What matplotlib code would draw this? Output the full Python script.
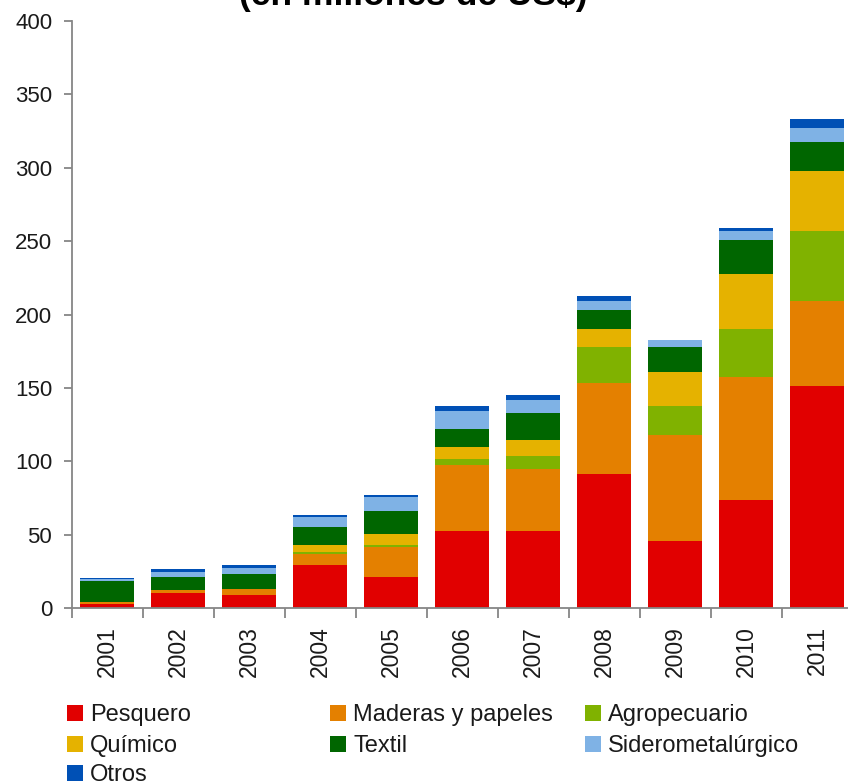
import matplotlib
matplotlib.use("Agg")
import matplotlib.pyplot as plt
from matplotlib.patches import Patch

# data (millions of US$)
years = ["2001", "2002", "2003", "2004", "2005", "2006", "2007", "2008", "2009", "2010", "2011"]
pesquero  = [3.1, 10.4, 9.0, 29.3, 21.3, 52.6, 52.6, 91.6, 45.8, 74.1, 151.4]
maderas   = [1.2, 1.8, 3.9, 7.4, 20.4, 44.7, 42.0, 61.7, 71.9, 83.2, 57.6]
agro      = [0.0, 0.0, 0.0, 1.6, 1.2, 4.3, 9.0, 24.5, 20.4, 32.7, 48.0]
quimico   = [0.0, 0.3, 0.5, 4.6, 7.8, 8.1, 10.9, 12.2, 22.6, 37.4, 40.6]
textil    = [14.1, 9.1, 9.7, 12.6, 15.5, 12.3, 18.6, 12.9, 17.1, 23.3, 19.9]
sidero    = [1.7, 3.2, 4.3, 6.4, 9.3, 12.2, 9.1, 6.2, 4.7, 6.2, 9.3]
otros     = [0.3, 1.8, 1.9, 1.4, 1.6, 3.9, 3.1, 3.3, 0.0, 1.8, 6.2]

series = [
    ("Pesquero", pesquero, "#E10000"),
    ("Maderas y papeles", maderas, "#E48000"),
    ("Agropecuario", agro, "#80B200"),
    ("Químico", quimico, "#E5B200"),
    ("Textil", textil, "#006600"),
    ("Siderometalúrgico", sidero, "#7FB2E5"),
    ("Otros", otros, "#0050B5"),
]

plt.rcParams["font.family"] = ["Liberation Sans", "DejaVu Sans"]
AXC = "#868686"
TXT = "#1a1a1a"

W, H = 848, 783
fig = plt.figure(figsize=(W / 100, H / 100), dpi=100)
ax = fig.add_axes([71.7 / W, 1 - 608.3 / H, 781 / W, (608.3 - 21) / H])

x = list(range(len(years)))
bottom = [0.0] * len(years)
for name, vals, col in series:
    ax.bar(x, vals, 0.76, bottom=bottom, color=col, edgecolor="none", zorder=2)
    bottom = [b + v for b, v in zip(bottom, vals)]

ax.set_xlim(-0.5, len(years) - 0.5)
ax.set_ylim(0, 400)
ax.set_yticks(range(0, 401, 50))

# category boundary ticks, labels centred on the bars
ax.set_xticks([i - 0.5 for i in range(len(years) + 1)])
ax.set_xticklabels([])
ax.set_xticks(x, minor=True)
ax.set_xticklabels(years, minor=True, rotation=90, fontsize=16.5, color=TXT)
ax.tick_params(axis="x", which="minor", length=0, pad=13)
ax.tick_params(axis="x", which="major", length=7, width=1.3, color=AXC)
ax.tick_params(axis="y", length=6, width=1.3, color=AXC, pad=8,
               labelsize=16, labelcolor=TXT)

for s in ("top", "right"):
    ax.spines[s].set_visible(False)
for s in ("left", "bottom"):
    ax.spines[s].set_color(AXC)
    ax.spines[s].set_linewidth(1.3)

# title sits mostly above the canvas, only its lower part shows
fig.text(413 / W, 1 - 5 / H, "(en millones de US$)", ha="center", va="baseline",
         fontsize=25.5, fontweight="bold")

# legend: one entry per slot, three fixed columns laid out row by row
slots = [(67, 715), (330, 715), (585, 715),
         (67, 746), (330, 746), (585, 746),
         (67, 775)]
for (name, _, col), (lx, ly) in zip(series, slots):
    fig.legend(handles=[Patch(facecolor=col, edgecolor="none", label=name)],
               loc="center left", bbox_to_anchor=(lx / W, 1 - ly / H),
               frameon=False, fontsize=17, labelcolor=TXT,
               handlelength=0.68, handleheight=0.68, handletextpad=0.3,
               borderpad=0, borderaxespad=0)

fig.savefig("out.png", dpi=100)
